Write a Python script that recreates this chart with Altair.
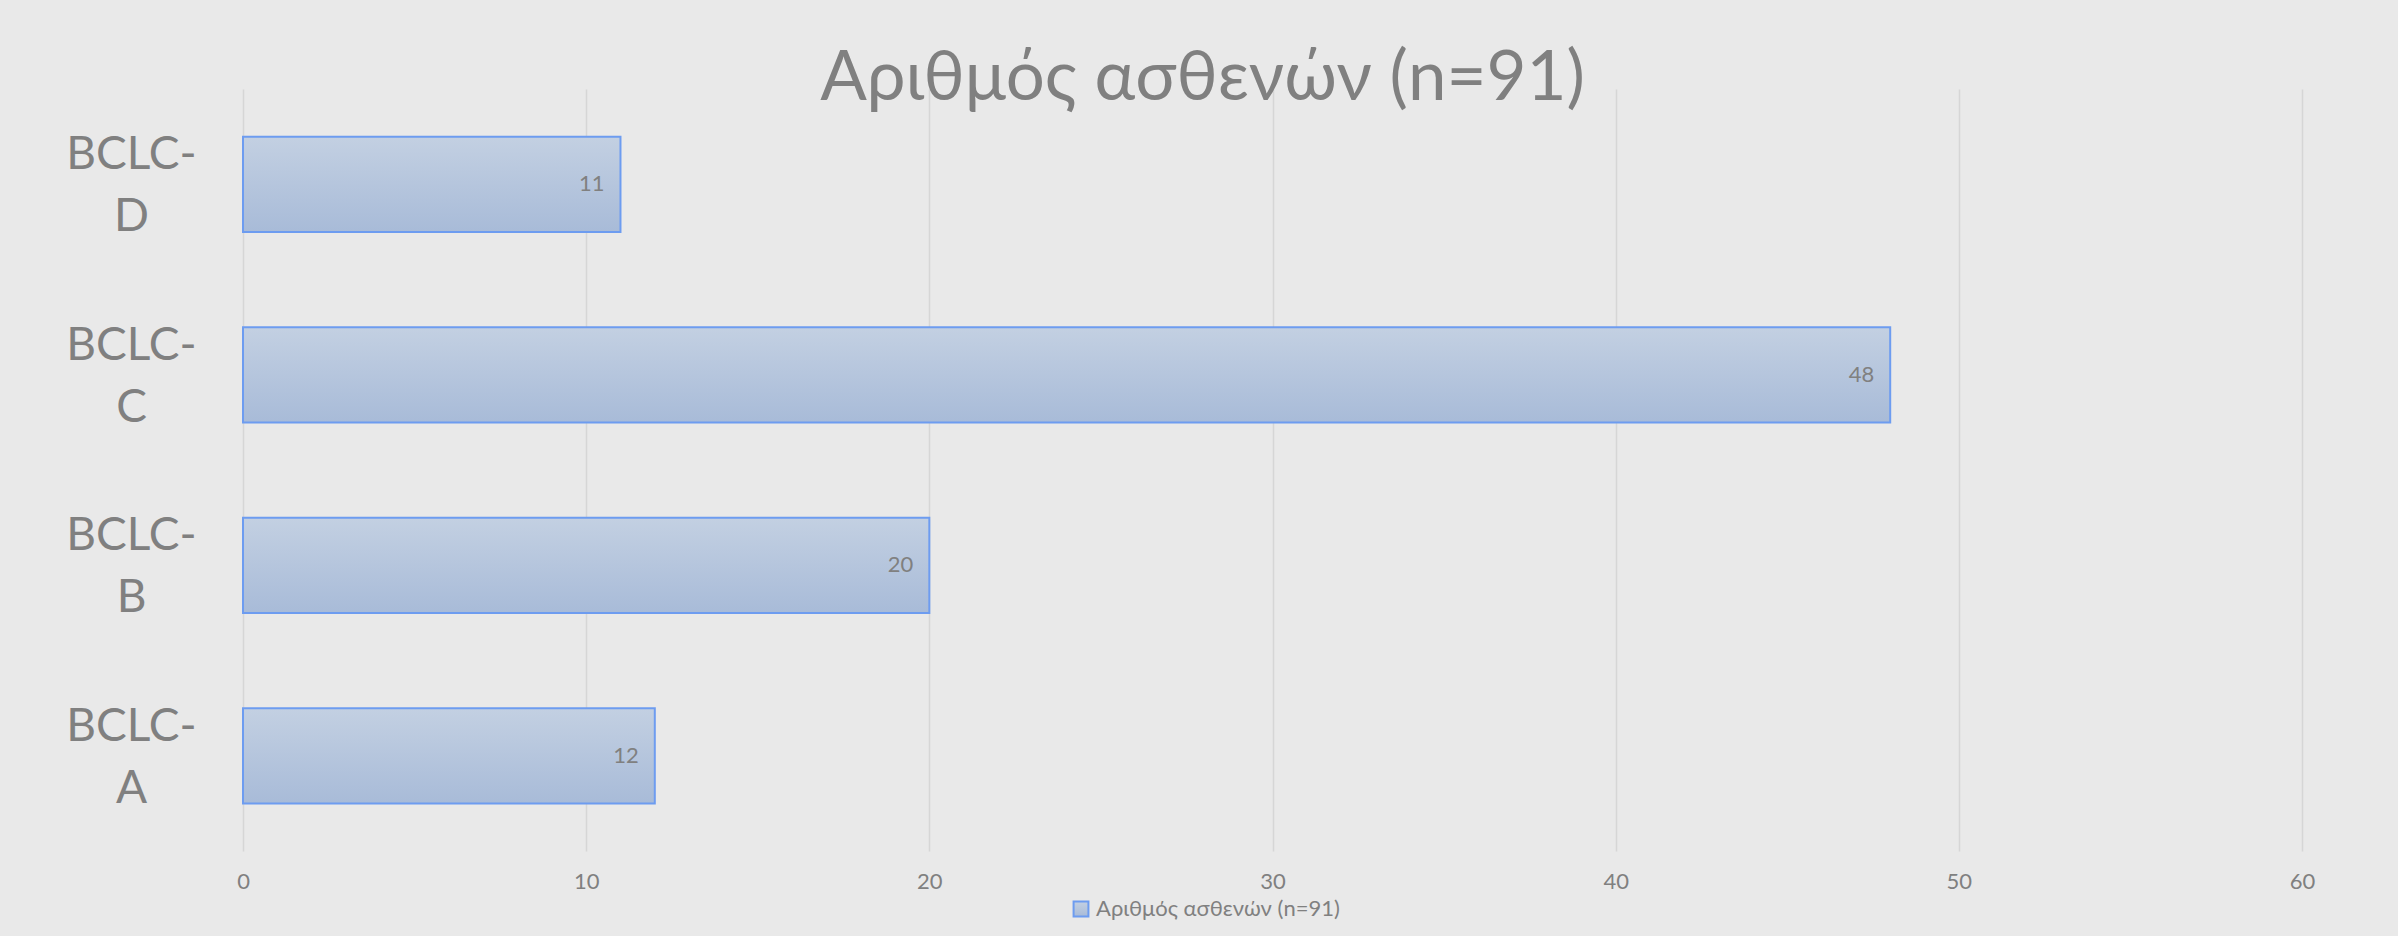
import altair as alt
import pandas as pd

categories = ["BCLC-A", "BCLC-B", "BCLC-C", "BCLC-D"]
values = [12, 20, 48, 11]
series_name = "Αριθμός ασθενών (n=91)"
x_ticks = [0, 10, 20, 30, 40, 50, 60]

df = pd.DataFrame({"stage": categories, "count": values, "series": [series_name] * len(categories)})

FONT = "Lato"
GREY = "#808080"
order = ["BCLC-D", "BCLC-C", "BCLC-B", "BCLC-A"]

y_enc = alt.Y(
    "stage:N",
    sort=order,
    scale=alt.Scale(paddingInner=0.5, paddingOuter=0.25),
    axis=alt.Axis(
        title=None,
        labelExpr="[slice(datum.label, 0, 5), slice(datum.label, 5)]",
        labelAlign="center",
        labelBaseline="middle",
        labelPadding=112,
        labelOffset=-29,
        labelFontSize=46,
        labelLineHeight=62,
        labelColor=GREY,
        labelFont=FONT,
        ticks=False,
        domain=False,
        grid=False,
    ),
)

x_enc = alt.X(
    "count:Q",
    scale=alt.Scale(domain=[0, 60], nice=False),
    axis=alt.Axis(
        title=None,
        values=x_ticks,
        labelFontSize=22,
        labelColor=GREY,
        labelFont=FONT,
        labelPadding=20,
        labelFlush=False,
        ticks=False,
        domain=False,
        grid=True,
        gridColor="#d6d6d6",
        gridWidth=1.5,
    ),
)

bars = alt.Chart(df).mark_bar(
    fill=alt.Gradient(
        gradient="linear",
        x1=0, x2=0, y1=0, y2=1,
        stops=[alt.GradientStop(color="#c3d0e2", offset=0), alt.GradientStop(color="#a8bbd8", offset=1)],
    ),
    strokeWidth=2,
).encode(
    x=x_enc,
    y=y_enc,
    stroke=alt.Stroke(
        "series:N",
        scale=alt.Scale(range=["#6d9cf0"]),
        legend=alt.Legend(
            title=None,
            orient="none",
            legendX=827,
            legendY=809,
            symbolType="square",
            symbolSize=220,
            symbolFillColor="#b6c5dd",
            symbolStrokeWidth=2,
            labelFontSize=22,
            labelColor=GREY,
            labelFont=FONT,
            labelLimit=0,
            symbolOpacity=1,
        ),
    ),
)

labels = alt.Chart(df).mark_text(
    align="right", baseline="middle", dx=-16, fontSize=22, color=GREY, font=FONT
).encode(
    x="count:Q",
    y=alt.Y("stage:N", sort=order),
    text="count:Q",
)

chart = (
    alt.layer(bars, labels)
    .properties(
        width=2059,
        height=762,
        background="#e9e9e9",
        padding={"left": 243, "top": 89, "right": 96, "bottom": 85},
        autosize=alt.AutoSizeParams(type="none"),
        title=alt.TitleParams(
            text=series_name,
            fontSize=69,
            font=FONT,
            fontWeight="normal",
            color=GREY,
            anchor="middle",
            baseline="alphabetic",
            offset=-18,
            dx=-70,
            dy=62,
        ),
    )
    .configure_view(stroke=None)
)

chart.save("out.html", embed_options={"renderer": "svg", "actions": False})
